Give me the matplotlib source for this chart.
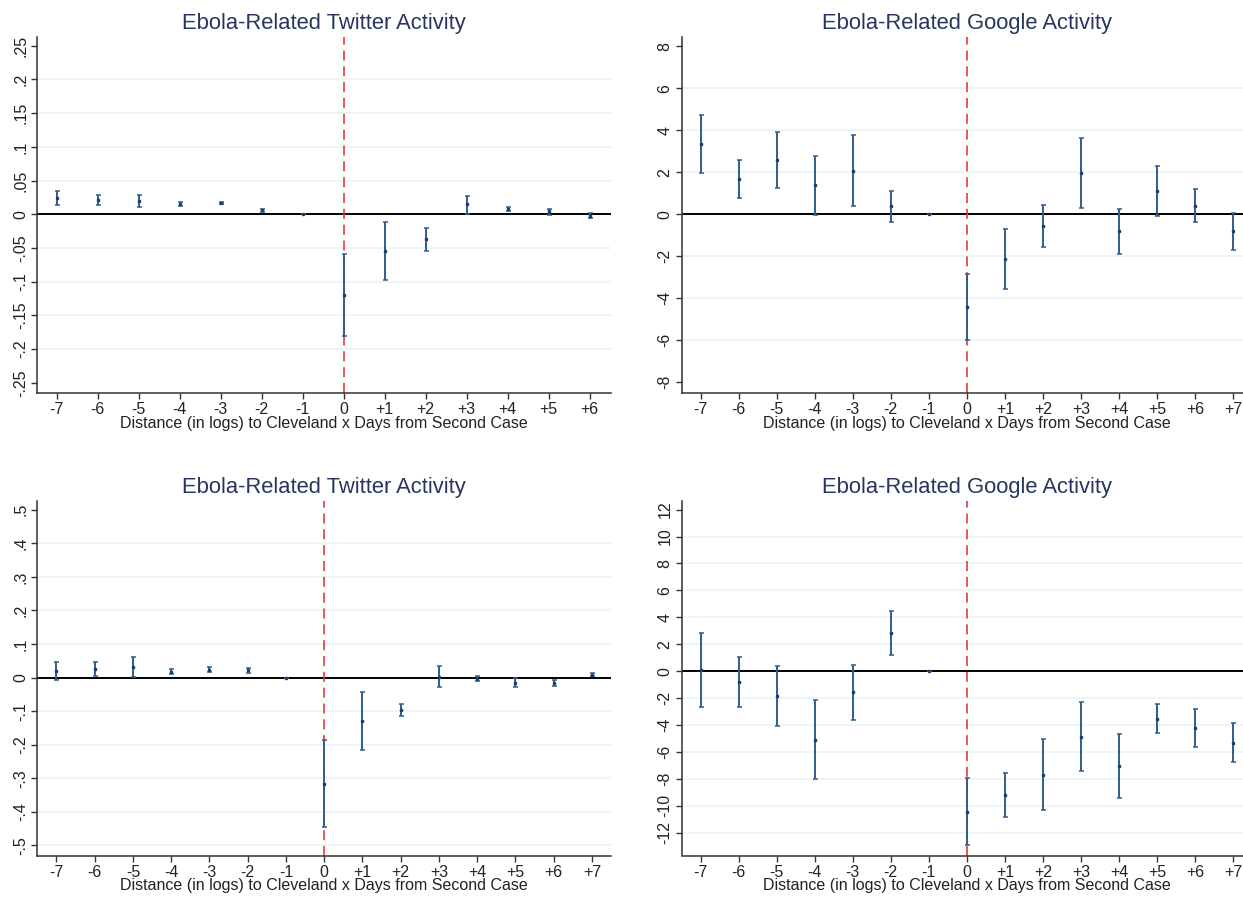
import numpy as np
import matplotlib
matplotlib.use("Agg")
import matplotlib.pyplot as plt

plt.rcParams['font.family'] = ['Liberation Sans', 'DejaVu Sans']

# Event-time leads/lags
days_short = [-7, -6, -5, -4, -3, -2, -1, 0, 1, 2, 3, 4, 5, 6]
days_full = [-7, -6, -5, -4, -3, -2, -1, 0, 1, 2, 3, 4, 5, 6, 7]

# Top-left: Twitter (estimate, lower CI, upper CI)
tw1_coef = [0.0248, 0.0213, 0.0203, 0.0153, 0.0168, 0.006, 0.0, -0.120, -0.0545, -0.0371, 0.0149, 0.0084, 0.0045, -0.002]
tw1_lo = [0.0139, 0.014, 0.0114, 0.0124, 0.015, 0.003, 0.0, -0.1807, -0.0975, -0.055, 0.0005, 0.0054, -0.0005, -0.006]
tw1_hi = [0.035, 0.028, 0.028, 0.018, 0.018, 0.0084, 0.0, -0.0594, -0.0109, -0.0208, 0.0277, 0.0114, 0.0084, 0.0025]

# Top-right: Google
gg1_coef = [3.35, 1.68, 2.60, 1.37, 2.08, 0.37, 0.0, -4.41, -2.13, -0.56, 1.97, -0.81, 1.11, 0.41, -0.81]
gg1_lo = [1.98, 0.79, 1.27, -0.03, 0.40, -0.37, 0.0, -5.97, -3.56, -1.56, 0.30, -1.90, -0.08, -0.35, -1.68]
gg1_hi = [4.71, 2.59, 3.94, 2.78, 3.78, 1.10, 0.0, -2.84, -0.68, 0.46, 3.65, 0.25, 2.32, 1.19, 0.06]

# Bottom-left: Twitter
tw2_coef = [0.0208, 0.0257, 0.0317, 0.0178, 0.0238, 0.0228, 0.0, -0.317, -0.130, -0.096, 0.003, -0.003, -0.015, -0.017, 0.0079]
tw2_lo = [-0.006, 0.004, 0.003, 0.011, 0.0158, 0.0149, 0.0, -0.4455, -0.216, -0.114, -0.0287, -0.011, -0.0287, -0.024, 0.004]
tw2_hi = [0.0465, 0.0465, 0.0614, 0.0248, 0.0317, 0.0297, 0.0, -0.186, -0.0436, -0.078, 0.0337, 0.004, 0.0, -0.007, 0.0129]

# Bottom-right: Google
gg2_coef = [0.1, -0.79, -1.83, -5.07, -1.56, 2.82, 0.0, -10.46, -9.20, -7.69, -4.85, -7.07, -3.51, -4.20, -5.32]
gg2_lo = [-2.67, -2.62, -4.08, -8.01, -3.61, 1.19, 0.0, -12.93, -10.83, -10.31, -7.44, -9.44, -4.55, -5.64, -6.75]
gg2_hi = [2.84, 1.04, 0.42, -2.13, 0.49, 4.45, 0.0, -7.96, -7.54, -5.04, -2.25, -4.65, -2.45, -2.77, -3.86]

tw1_ticks = [0.25, 0.2, 0.15, 0.1, 0.05, 0, -0.05, -0.1, -0.15, -0.2, -0.25]
tw1_labels = ['.25', '.2', '.15', '.1', '.05', '0', '-.05', '-.1', '-.15', '-.2', '-.25']
gg1_ticks = [8, 6, 4, 2, 0, -2, -4, -6, -8]
tw2_ticks = [0.5, 0.4, 0.3, 0.2, 0.1, 0, -0.1, -0.2, -0.3, -0.4, -0.5]
tw2_labels = ['.5', '.4', '.3', '.2', '.1', '0', '-.1', '-.2', '-.3', '-.4', '-.5']
gg2_ticks = [12, 10, 8, 6, 4, 2, 0, -2, -4, -6, -8, -10, -12]

XLABEL = "Distance (in logs) to Cleveland x Days from Second Case"
TITLE_COLOR = '#25365e'
BAR_COLOR = '#2f5d8a'
DOT_COLOR = '#1d3f6b'
GRID_COLOR = '#eaf2f4'


def day_label(d):
    return '0' if d == 0 else ('%+d' % d)


def panel(rect, title, days, coef, lo, hi, yticks, ylabels, ylim, xlim, grid_vals):
    ax = fig.add_axes(rect)
    coef = np.array(coef)
    yerr = [coef - np.array(lo), np.array(hi) - coef]
    for g in grid_vals:
        ax.axhline(g, color=GRID_COLOR, lw=1.1, zorder=0)
    ax.axhline(0, color='black', lw=1.4, zorder=1)
    ax.axvline(0, color='#e8383d', lw=1.2, dashes=(6, 3.5), zorder=2)
    ax.errorbar(days, coef, yerr=yerr, fmt='s', ms=1.7, color=DOT_COLOR,
                ecolor=BAR_COLOR, elinewidth=1.4, capsize=1.8, capthick=1.1, zorder=3)
    ax.set_xlim(*xlim)
    ax.set_ylim(*ylim)
    ax.set_xticks(days)
    ax.set_xticklabels([day_label(d) for d in days])
    ax.set_yticks(yticks)
    ax.set_yticklabels(ylabels, rotation=90, va='center')
    for s in ['top', 'right']:
        ax.spines[s].set_visible(False)
    for s in ['left', 'bottom']:
        ax.spines[s].set_color('#333333')
        ax.spines[s].set_linewidth(1.1)
    ax.tick_params(axis='both', length=4.5, width=1.0, color='#333333',
                   labelsize=11.5, labelcolor='#222222', pad=2)
    ax.set_xlabel(XLABEL, fontsize=11.5, color='#222222', labelpad=-1)
    ax.set_title(title, fontsize=15.8, color=TITLE_COLOR, pad=6)
    return ax


fig = plt.figure(figsize=(12.43, 8.97), dpi=100)

W, H = 1243.0, 897.0
def rect(l, r, t, b):
    return [l / W, 1 - b / H, (r - l) / W, (b - t) / H]

panel(rect(37.3, 611, 37, 393), "Ebola-Related Twitter Activity", days_short,
      tw1_coef, tw1_lo, tw1_hi, tw1_ticks, tw1_labels, (-0.265, 0.263), (-7.47, 6.52),
      tw1_ticks[1:-1])
panel(rect(681.5, 1252.3, 37, 393), "Ebola-Related Google Activity", days_full,
      gg1_coef, gg1_lo, gg1_hi, gg1_ticks, [str(t) for t in gg1_ticks], (-8.51, 8.44), (-7.5, 7.5),
      gg1_ticks[1:-1])
panel(rect(37.3, 611, 501, 855.5), "Ebola-Related Twitter Activity", days_full,
      tw2_coef, tw2_lo, tw2_hi, tw2_ticks, tw2_labels, (-0.53, 0.526), (-7.5, 7.5),
      tw2_ticks[1:])
panel(rect(681.5, 1252.3, 501, 855.5), "Ebola-Related Google Activity", days_full,
      gg2_coef, gg2_lo, gg2_hi, gg2_ticks, [str(t) for t in gg2_ticks], (-13.68, 12.64), (-7.5, 7.5),
      gg2_ticks[1:])

fig.savefig("out.png", dpi=100)
